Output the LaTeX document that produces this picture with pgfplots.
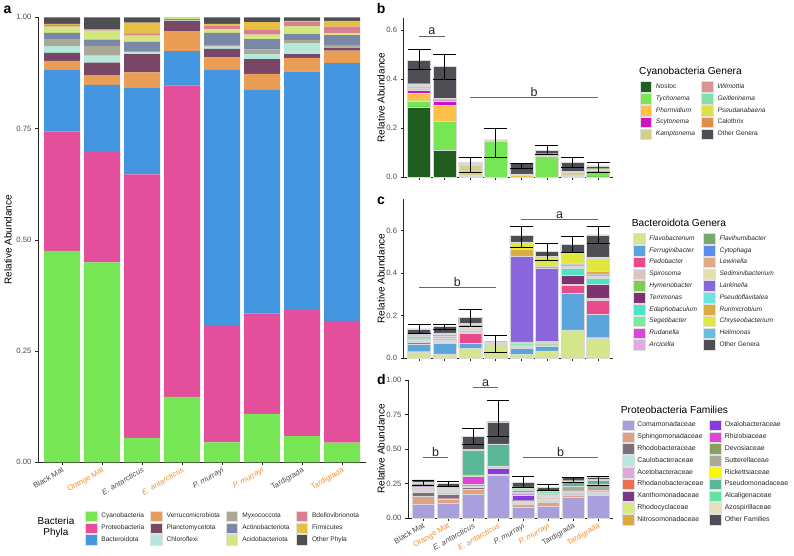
\documentclass[border=0pt]{standalone}
\usepackage{pgfplots}
\pgfplotsset{compat=1.18}
\usepackage{pgfplotstable}
\usepackage{fontspec}
\setmainfont{Liberation Sans}

\definecolor{orng}{HTML}{F28E2B}
% panel a
\definecolor{pa1}{HTML}{76E655}\definecolor{pa2}{HTML}{E34F9B}\definecolor{pa3}{HTML}{4596E0}
\definecolor{pa4}{HTML}{E99D55}\definecolor{pa5}{HTML}{784765}\definecolor{pa6}{HTML}{B5E8DA}
\definecolor{pa7}{HTML}{A9A996}\definecolor{pa8}{HTML}{7888A6}\definecolor{pa9}{HTML}{D3E67F}
\definecolor{pa10}{HTML}{D97E93}\definecolor{pa11}{HTML}{E6BF45}\definecolor{pa12}{HTML}{4D4F55}
% panel b
\definecolor{pb1}{HTML}{1F5E1F}\definecolor{pb2}{HTML}{76E655}\definecolor{pb3}{HTML}{FFC04A}
\definecolor{pb4}{HTML}{D30FC0}\definecolor{pb5}{HTML}{D3CF8D}\definecolor{pb6}{HTML}{D69494}
\definecolor{pb7}{HTML}{80E0A8}\definecolor{pb8}{HTML}{DDE04A}\definecolor{pb9}{HTML}{E08C4A}
\definecolor{pb10}{HTML}{4D4F55}
% panel c
\definecolor{pc1}{HTML}{D4E68C}\definecolor{pc2}{HTML}{5BA5DD}\definecolor{pc3}{HTML}{E84A8C}
\definecolor{pc4}{HTML}{DCC4C0}\definecolor{pc5}{HTML}{7CCC58}\definecolor{pc6}{HTML}{7E336E}
\definecolor{pc7}{HTML}{4FE3C3}\definecolor{pc8}{HTML}{7CE89C}\definecolor{pc9}{HTML}{DB45DB}
\definecolor{pc10}{HTML}{E2AAE2}\definecolor{pc11}{HTML}{78A870}\definecolor{pc12}{HTML}{5C8CEB}
\definecolor{pc13}{HTML}{DFAA88}\definecolor{pc14}{HTML}{E2DFB2}\definecolor{pc15}{HTML}{8A66DC}
\definecolor{pc16}{HTML}{66E6E0}\definecolor{pc17}{HTML}{DCAC40}\definecolor{pc18}{HTML}{E0E840}
\definecolor{pc19}{HTML}{66BFDC}\definecolor{pc20}{HTML}{4D4F55}
% panel d
\definecolor{pd1}{HTML}{A99FDD}\definecolor{pd2}{HTML}{E0A283}\definecolor{pd3}{HTML}{7D6E80}
\definecolor{pd4}{HTML}{B7E8E0}\definecolor{pd5}{HTML}{DDAADD}\definecolor{pd6}{HTML}{EB6E4F}
\definecolor{pd7}{HTML}{7A3A80}\definecolor{pd8}{HTML}{D5EB80}\definecolor{pd9}{HTML}{DEAA3F}
\definecolor{pd10}{HTML}{8B38E3}\definecolor{pd11}{HTML}{E044D8}\definecolor{pd12}{HTML}{88A05E}
\definecolor{pd13}{HTML}{AAAA98}\definecolor{pd14}{HTML}{F8F800}\definecolor{pd15}{HTML}{5AB898}
\definecolor{pd16}{HTML}{62E3A2}\definecolor{pd17}{HTML}{E3E0BA}\definecolor{pd18}{HTML}{4D4F55}

\pgfplotstableread{
x cy pr ba ve pl ch my ac ad bd fi ot
0 0.475 0.268 0.139 0.020 0.018 0.015 0.016 0.014 0.014 0.004 0.002 0.015
1 0.449 0.248 0.151 0.022 0.028 0.016 0.022 0.014 0.020 0.003 0.000 0.027
2 0.055 0.592 0.194 0.035 0.041 0.004 0.003 0.021 0.014 0.005 0.024 0.012
3 0.147 0.700 0.077 0.045 0.023 0.001 0.001 0.002 0.003 0.000 0.000 0.001
4 0.045 0.263 0.575 0.027 0.019 0.005 0.004 0.027 0.008 0.007 0.005 0.015
5 0.109 0.225 0.504 0.035 0.033 0.011 0.011 0.023 0.010 0.012 0.016 0.011
6 0.059 0.283 0.536 0.031 0.008 0.025 0.007 0.013 0.018 0.010 0.002 0.008
7 0.044 0.274 0.579 0.028 0.007 0.001 0.005 0.022 0.004 0.015 0.013 0.008
}\tabA

\pgfplotstableread{
x no ty ph sc ka wi ge ps ca ot
0 0.287 0.025 0.030 0.013 0.010 0.006 0.004 0.004 0.002 0.096
1 0.111 0.116 0.067 0.018 0.003 0.001 0.001 0.004 0.001 0.131
2 0.003 0.002 0.003 0.000 0.040 0.004 0.004 0.001 0.001 0.002
3 0.001 0.146 0.001 0.000 0.000 0.000 0.002 0.000 0.000 0.002
4 0.001 0.001 0.005 0.000 0.004 0.000 0.000 0.002 0.001 0.043
5 0.001 0.087 0.003 0.000 0.001 0.000 0.000 0.003 0.001 0.013
6 0.003 0.002 0.002 0.000 0.014 0.001 0.001 0.001 0.000 0.036
7 0.002 0.026 0.001 0.000 0.002 0.000 0.003 0.001 0.000 0.011
}\tabB

\pgfplotstableread{
x fl fe pe sp hy te ed se ru ar fh cy le sd la pf rm ch he ot
0 0.031 0.035 0.010 0.004 0.006 0.003 0.003 0.003 0.002 0.004 0.002 0.001 0.002 0.003 0.001 0.002 0.001 0.001 0.002 0.022
1 0.021 0.050 0.004 0.004 0.006 0.002 0.003 0.003 0.002 0.008 0.002 0.001 0.002 0.004 0.002 0.002 0.001 0.001 0.002 0.029
2 0.047 0.023 0.047 0.008 0.006 0.004 0.006 0.005 0.002 0.003 0.002 0.001 0.001 0.003 0.001 0.002 0.001 0.001 0.001 0.030
3 0.068 0.002 0.000 0.000 0.000 0.000 0.000 0.000 0.000 0.000 0.000 0.000 0.000 0.000 0.000 0.000 0.000 0.000 0.005 0.003
4 0.020 0.027 0.004 0.002 0.005 0.002 0.004 0.005 0.001 0.001 0.002 0.001 0.001 0.002 0.403 0.001 0.030 0.033 0.003 0.030
5 0.035 0.020 0.003 0.002 0.004 0.002 0.002 0.004 0.002 0.002 0.001 0.000 0.000 0.002 0.343 0.001 0.010 0.045 0.002 0.024
6 0.133 0.173 0.036 0.003 0.003 0.041 0.034 0.003 0.002 0.005 0.001 0.001 0.002 0.001 0.001 0.002 0.005 0.046 0.001 0.043
7 0.097 0.110 0.067 0.006 0.002 0.066 0.028 0.003 0.003 0.004 0.001 0.001 0.002 0.001 0.001 0.005 0.012 0.063 0.003 0.105
}\tabC

\pgfplotstableread{
x co sp rb ca ac rn xa rc ni ox rz de su ri ps al az ot
0 0.097 0.062 0.025 0.012 0.008 0.007 0.006 0.004 0.003 0.003 0.002 0.002 0.020 0.001 0.003 0.002 0.003 0.016
1 0.104 0.036 0.034 0.008 0.006 0.006 0.008 0.003 0.003 0.002 0.006 0.002 0.004 0.001 0.002 0.001 0.002 0.022
2 0.174 0.034 0.012 0.004 0.004 0.002 0.004 0.002 0.002 0.004 0.062 0.002 0.002 0.005 0.180 0.004 0.000 0.097
3 0.309 0.006 0.001 0.000 0.000 0.000 0.000 0.000 0.000 0.046 0.001 0.000 0.000 0.015 0.158 0.002 0.000 0.160
4 0.075 0.024 0.008 0.006 0.004 0.004 0.004 0.002 0.002 0.040 0.006 0.003 0.006 0.002 0.018 0.008 0.014 0.033
5 0.087 0.029 0.006 0.008 0.005 0.004 0.004 0.004 0.003 0.006 0.006 0.003 0.004 0.002 0.012 0.012 0.003 0.026
6 0.152 0.010 0.006 0.004 0.004 0.003 0.005 0.004 0.002 0.002 0.002 0.004 0.030 0.002 0.030 0.006 0.004 0.025
7 0.162 0.012 0.004 0.003 0.003 0.003 0.003 0.002 0.002 0.001 0.002 0.003 0.045 0.001 0.030 0.003 0.002 0.015
}\tabD

\pgfplotsset{
  panel/.style={
    scale only axis, anchor=south west,
    axis lines=left, axis line style={-, line width=0.55pt, black!85},
    xmin=-0.6, xmax=7.6, ymin=0,
    xtick={0,...,7}, tick align=outside, major tick length=3pt,
    tick style={line width=0.55pt, black!85},
    ticklabel style={font=\fontsize{7.7}{9}\selectfont, text=black!70},
    yticklabel style={/pgf/number format/.cd, fixed, fixed zerofill, precision=#1, assume math mode=true},
    scaled y ticks=false,
    ylabel={Relative Abundance},
    ylabel style={font=\fontsize{10}{12}\selectfont, text=black, anchor=center},
    clip=false,
    ybar stacked, bar width=0.9,
    legend cell align=left,
    legend style={draw=none, fill=none, inner sep=0pt, outer sep=0pt, row sep=0.8pt,
      anchor=north west,
      font=\fontsize{6.6}{8}\selectfont, text=black!85,
      nodes={inner sep=0pt, text height=4.8pt, text depth=1.4pt},
      /tikz/every odd column/.append style={column sep=4.5pt},
      /tikz/every even column/.append style={column sep=6pt}},
    transpose legend,
  },
  ovl/.style={scale only axis, anchor=south west, xmin=-0.6, xmax=7.6, ymin=0, hide axis, clip=false},
  geoA/.style={at={(38pt,93.7pt)}, width=328pt, height=445pt, ymax=1},
  geoB/.style={at={(403.7pt,378.7pt)}, width=209.7pt, height=159.6pt, ymax=0.65},
  geoC/.style={at={(403.7pt,197.7pt)}, width=209.7pt, height=159.6pt, ymax=0.75},
  geoD/.style={at={(408pt,38pt)}, width=205pt, height=138pt, ymax=1},
  legkey/.style={legend image code/.code={\draw[##1, draw=black!12, line width=0.4pt] (0pt,-5.3pt) rectangle (11.5pt,5.3pt);}},
}
\tikzset{
  sig/.style={black!60, line width=0.8pt},
  errb/.style={black, line width=0.75pt},
  sigl/.style={font=\fontsize{12.5}{14}\selectfont, anchor=base, text=black!85, inner sep=0pt},
  plet/.style={font=\fontsize{14}{16}\selectfont\bfseries, anchor=base west, inner sep=0pt},
  ltitle/.style={font=\fontsize{10.2}{12}\selectfont, anchor=base west, inner sep=0pt},
}

\begin{document}
\begin{tikzpicture}
\useasboundingbox (0pt,0pt) rectangle (794pt,556pt);

% ---------------- panel a
\begin{axis}[panel=2, geoA,
  ytick={0,0.25,0.5,0.75,1},
  ylabel style={at={(axis description cs:-0.0915,0.5)}},
  xticklabels={Black Mat, {\color{orng}Orange Mat}, \textit{E. antarcticus}, {\color{orng}\textit{E. antarcticus}}, \textit{P. murrayi}, {\color{orng}\textit{P. murrayi}}, Tardigrada, {\color{orng}Tardigrada}},
  xticklabel style={rotate=30, anchor=north east, inner sep=1pt},
  legend columns=3,
  legend style={at={(0.1433,-0.1088)}},
]
\pgfplotsinvokeforeach{1,...,12}{\addplot[fill=pa#1, draw=none, legkey] table[x index=0, y index=#1] {\tabA};}
\legend{Cyanobacteria, Proteobacteria, Bacteroidota, Verrucomicrobiota, Planctomycetota, Chloroflexi, Myxococcota, Actinobacteriota, Acidobacteriota, Bdellovibrionota, Firmicutes, Other Phyla}
\end{axis}

% ---------------- panel b
\begin{axis}[panel=1, geoB,
  ytick={0,0.2,0.4,0.6},
  ylabel style={at={(axis description cs:-0.108,0.5)}},
  xticklabel=\empty,
  legend columns=5,
  legend style={at={(1.1245,0.601)}},
]
\pgfplotsinvokeforeach{1,...,10}{\addplot[fill=pb#1, draw=white!85!black, line width=0.3pt, legkey] table[x index=0, y index=#1] {\tabB};}
\legend{\textit{Nostoc}, \textit{Tychonema}, \textit{Phormidium}, \textit{Scytonema}, \textit{Kamptonema}, \textit{Wilmottia}, \textit{Geitlerinema}, \textit{Pseudanabaena}, Calothrix, Other Genera}
\end{axis}
\begin{axis}[ovl, geoB]
\addplot[errb, unbounded coords=jump] coordinates {
(-0.45,0.44) (0.45,0.44) (0,nan) (0,0.44) (0,0.52) (0,nan) (-0.45,0.52) (0.45,0.52) (0,nan)
(0.55,0.40) (1.45,0.40) (1,nan) (1,0.40) (1,0.50) (1,nan) (0.55,0.50) (1.45,0.50) (1,nan)
(1.55,0.02) (2.45,0.02) (2,nan) (2,0.02) (2,0.08) (2,nan) (1.55,0.08) (2.45,0.08) (2,nan)
(2.55,0.08) (3.45,0.08) (3,nan) (3,0.08) (3,0.20) (3,nan) (2.55,0.20) (3.45,0.20) (3,nan)
(3.55,0.038) (4.45,0.038) (4,nan) (4,0.038) (4,0.055) (4,nan) (3.55,0.055) (4.45,0.055) (4,nan)
(4.55,0.094) (5.45,0.094) (5,nan) (5,0.094) (5,0.13) (5,nan) (4.55,0.13) (5.45,0.13) (5,nan)
(5.55,0.04) (6.45,0.04) (6,nan) (6,0.04) (6,0.08) (6,nan) (5.55,0.08) (6.45,0.08) (6,nan)
(6.55,0.02) (7.45,0.02) (7,nan) (7,0.02) (7,0.06) (7,nan) (6.55,0.06) (7.45,0.06)
};
\addplot[sig] coordinates {(0,0.575) (1,0.575)};
\addplot[sig] coordinates {(2,0.326) (7,0.326)};
\node[sigl] at (axis cs:0.5,0.580) {a};
\node[sigl] at (axis cs:4.5,0.331) {b};
\end{axis}

% ---------------- panel c
\begin{axis}[panel=1, geoC,
  ytick={0,0.2,0.4,0.6},
  ylabel style={at={(axis description cs:-0.108,0.5)}},
  xticklabel=\empty,
  legend columns=10,
  legend style={at={(1.0935,0.784)}},
]
\pgfplotsinvokeforeach{1,...,20}{\addplot[fill=pc#1, draw=white!85!black, line width=0.3pt, legkey] table[x index=0, y index=#1] {\tabC};}
\legend{\textit{Flavobacterium}, \textit{Ferruginibacter}, \textit{Pedobacter}, \textit{Spirosoma}, \textit{Hymenobacter}, \textit{Terrimonas}, \textit{Edaphobaculum}, \textit{Segetibacter}, \textit{Rudanella}, \textit{Arcicella}, \textit{Flavihumibacter}, \textit{Cytophaga}, \textit{Lewinella}, \textit{Sediminibacterium}, \textit{Larkinella}, \textit{Pseudoflavitalea}, \textit{Rurimicrobium}, \textit{Chryseobacterium}, \textit{Helimonas}, Other Genera}
\end{axis}
\begin{axis}[ovl, geoC]
\addplot[errb, unbounded coords=jump] coordinates {
(-0.45,0.116) (0.45,0.116) (0,nan) (0,0.116) (0,0.16) (0,nan) (-0.45,0.16) (0.45,0.16) (0,nan)
(0.55,0.136) (1.45,0.136) (1,nan) (1,0.136) (1,0.16) (1,nan) (0.55,0.16) (1.45,0.16) (1,nan)
(1.55,0.152) (2.45,0.152) (2,nan) (2,0.152) (2,0.23) (2,nan) (1.55,0.23) (2.45,0.23) (2,nan)
(2.55,0.028) (3.45,0.028) (3,nan) (3,0.028) (3,0.11) (3,nan) (2.55,0.11) (3.45,0.11) (3,nan)
(3.55,0.52) (4.45,0.52) (4,nan) (4,0.52) (4,0.62) (4,nan) (3.55,0.62) (4.45,0.62) (4,nan)
(4.55,0.46) (5.45,0.46) (5,nan) (5,0.46) (5,0.54) (5,nan) (4.55,0.54) (5.45,0.54) (5,nan)
(5.55,0.50) (6.45,0.50) (6,nan) (6,0.50) (6,0.575) (6,nan) (5.55,0.575) (6.45,0.575) (6,nan)
(6.55,0.54) (7.45,0.54) (7,nan) (7,0.54) (7,0.62) (7,nan) (6.55,0.62) (7.45,0.62)
};
\addplot[sig] coordinates {(0,0.332) (3,0.332)};
\addplot[sig] coordinates {(4,0.653) (7,0.653)};
\node[sigl] at (axis cs:1.5,0.337) {b};
\node[sigl] at (axis cs:5.5,0.658) {a};
\end{axis}

% ---------------- panel d
\begin{axis}[panel=2, geoD,
  ytick={0,0.25,0.5,0.75,1},
  ylabel style={at={(axis description cs:-0.132,0.5)}},
  xticklabels={Black Mat, {\color{orng}Orange Mat}, \textit{E. antarcticus}, {\color{orng}\textit{E. antarcticus}}, \textit{P. murrayi}, {\color{orng}\textit{P. murrayi}}, Tardigrada, {\color{orng}Tardigrada}},
  xticklabel style={rotate=30, anchor=north east, inner sep=1pt},
  legend columns=9,
  legend style={at={(1.044,0.712)}, font=\fontsize{6.9}{8}\selectfont,
    /tikz/every odd column/.append style={column sep=3.5pt}},
]
\pgfplotsinvokeforeach{1,...,18}{\addplot[fill=pd#1, draw=white!85!black, line width=0.3pt, legkey] table[x index=0, y index=#1] {\tabD};}
\legend{Comamonadaceae, Sphingomonadaceae, Rhodobacteraceae, Caulobacteraceae, Acetobacteraceae, Rhodanobacteraceae, Xanthomonadaceae, Rhodocyclaceae, Nitrosomonadaceae, Oxalobacteraceae, Rhizobiaceae, Devosiaceae, Sutterellaceae, Rickettsiaceae, Pseudomonadaceae, Alcaligenaceae, Azospirillaceae, Other Families}
\end{axis}
\begin{axis}[ovl, geoD]
\addplot[errb, unbounded coords=jump] coordinates {
(-0.45,0.24) (0.45,0.24) (0,nan) (0,0.24) (0,0.27) (0,nan) (-0.45,0.27) (0.45,0.27) (0,nan)
(0.55,0.227) (1.45,0.227) (1,nan) (1,0.227) (1,0.268) (1,nan) (0.55,0.268) (1.45,0.268) (1,nan)
(1.55,0.53) (2.45,0.53) (2,nan) (2,0.53) (2,0.65) (2,nan) (1.55,0.65) (2.45,0.65) (2,nan)
(2.55,0.59) (3.45,0.59) (3,nan) (3,0.59) (3,0.85) (3,nan) (2.55,0.85) (3.45,0.85) (3,nan)
(3.55,0.22) (4.45,0.22) (4,nan) (4,0.22) (4,0.30) (4,nan) (3.55,0.30) (4.45,0.30) (4,nan)
(4.55,0.203) (5.45,0.203) (5,nan) (5,0.203) (5,0.244) (5,nan) (4.55,0.244) (5.45,0.244) (5,nan)
(5.55,0.261) (6.45,0.261) (6,nan) (6,0.261) (6,0.295) (6,nan) (5.55,0.295) (6.45,0.295) (6,nan)
(6.55,0.24) (7.45,0.24) (7,nan) (7,0.24) (7,0.30) (7,nan) (6.55,0.30) (7.45,0.30)
};
\addplot[sig] coordinates {(2,0.947) (3,0.947)};
\addplot[sig] coordinates {(0,0.440) (1,0.440)};
\addplot[sig] coordinates {(4,0.440) (7,0.440)};
\node[sigl] at (axis cs:2.5,0.955) {a};
\node[sigl] at (axis cs:0.5,0.448) {b};
\node[sigl] at (axis cs:5.5,0.448) {b};
\end{axis}

% ---------------- titles and panel letters
\node[plet] at (3.5pt,542.7pt) {a};
\node[plet] at (376.7pt,542pt) {b};
\node[plet] at (377pt,351pt) {c};
\node[plet] at (377pt,171pt) {d};
\node[ltitle] at (639pt,481pt) {Cyanobacteria Genera};
\node[ltitle] at (631.7pt,329pt) {Bacteroidota Genera};
\node[ltitle] at (620.7pt,142pt) {Proteobacteria Families};
\node[font=\fontsize{10}{12}\selectfont, anchor=base, inner sep=0pt] at (56pt,31.7pt) {Bacteria};
\node[font=\fontsize{10}{12}\selectfont, anchor=base, inner sep=0pt] at (56pt,20.4pt) {Phyla};
\end{tikzpicture}
\end{document}
